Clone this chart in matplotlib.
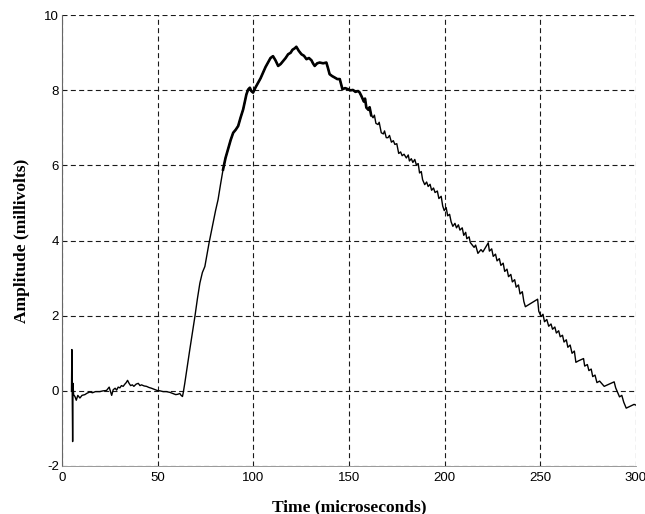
# Amplitude vs time trace, redrawn from a scanned plot
import numpy as np
import matplotlib.pyplot as plt

plt.rcParams['axes.unicode_minus'] = False

# --- data (time in microseconds, amplitude in millivolts) ---
baseline_t = [5.0, 5.2, 5.4, 5.6, 5.8, 6.1, 6.8, 7.5, 8.3, 9.4, 10.5, 12.0, 13.2, 14.6, 16.0,
              17.5, 19.8, 21.5, 23.3, 24.7, 25.4, 26.0, 26.8, 27.8, 28.6, 29.4, 30.3, 31.1,
              32.0, 32.9, 33.6, 34.3, 35.1, 35.9, 36.8, 37.6, 38.8, 39.9, 40.8, 41.6, 43.0,
              44.2, 45.5, 46.8, 48.3, 49.8, 51.3, 52.9, 54.6, 56.4, 58.0, 59.5, 60.6, 61.6,
              62.3, 63.0]
baseline_v = [0.0, 1.1, -0.3, -1.35, 0.2, -0.1, -0.15, -0.25, -0.12, -0.19, -0.12, -0.1, -0.06,
              -0.03, -0.05, -0.02, -0.02, 0.0, 0.01, 0.1, -0.02, -0.12, 0.03, 0.07, 0.02, 0.1,
              0.08, 0.14, 0.12, 0.18, 0.22, 0.28, 0.2, 0.14, 0.16, 0.12, 0.18, 0.2, 0.14, 0.16,
              0.13, 0.12, 0.09, 0.07, 0.04, 0.01, 0.0, -0.02, -0.02, -0.04, -0.07, -0.1, -0.09,
              -0.07, -0.12, -0.15]

rise_t = [63.4, 64.2, 65.5, 66.8, 68.2, 69.5, 70.8, 72.1, 73.4, 74.7, 75.8, 76.9, 78.0, 79.0,
          80.3, 81.6, 82.9, 84.2, 85.5, 86.8, 88.2, 89.5, 90.8, 92.1, 93.4, 94.7, 95.6, 96.4,
          97.3, 98.2, 99.0, 99.9, 101.2, 102.5, 103.8, 105.1, 106.4, 107.7, 109.0, 110.3]
rise_v = [-0.05, 0.2, 0.65, 1.09, 1.55, 1.98, 2.45, 2.87, 3.15, 3.31, 3.62, 3.94, 4.22, 4.47,
          4.8, 5.09, 5.5, 5.89, 6.2, 6.43, 6.68, 6.87, 6.95, 7.05, 7.28, 7.49, 7.7, 7.89, 8.02,
          8.07, 7.98, 7.94, 8.08, 8.2, 8.32, 8.47, 8.62, 8.74, 8.86, 8.91]

peak_t = [111.6, 113.0, 114.3, 115.6, 116.9, 118.2, 119.5, 120.5, 121.7, 122.5, 123.8, 125.2,
          126.5, 127.8, 129.1, 130.4, 131.2, 132.1, 133.4, 134.7, 136.5, 138.2, 139.0, 139.9,
          141.2, 142.6, 143.9, 145.2, 146.6, 148.0, 149.5, 150.8, 152.1, 153.4, 154.7, 155.5,
          156.5]
peak_v = [8.8, 8.65, 8.7, 8.78, 8.86, 8.96, 9.0, 9.08, 9.12, 9.16, 9.05, 8.96, 8.92, 8.83,
          8.86, 8.8, 8.72, 8.65, 8.72, 8.74, 8.72, 8.74, 8.6, 8.43, 8.38, 8.34, 8.3, 8.3, 8.03,
          8.06, 8.03, 8.0, 8.01, 7.96, 7.98, 7.95, 7.85]

fall_t = [157.8, 158.4, 159.1, 160.2, 160.8, 161.6, 162.6, 163.3, 164.1, 165.2, 165.8, 166.9,
          168.0, 168.6, 169.5, 170.4, 171.2, 172.2, 173.2, 174.0, 175.0, 176.0, 177.0, 177.8,
          178.8, 180.0, 181.0, 181.6, 182.6, 183.4, 184.4, 185.2, 186.2, 186.9, 187.8, 188.5,
          189.6, 190.6, 191.4, 192.4, 193.2, 194.2, 195.0, 196.2, 197.0, 198.2, 199.0, 199.8,
          200.8, 201.6, 202.6, 203.4, 204.3, 205.4, 206.2, 207.2, 208.0, 209.2, 210.0, 211.0,
          211.6, 212.8, 213.4, 215.4, 216.2, 217.4, 219.0, 220.0, 222.8, 223.4, 224.6, 225.4,
          226.6, 227.4, 228.6, 229.4, 230.6, 231.4, 232.6, 233.4, 234.6, 235.4, 236.6, 237.4,
          238.6, 239.4, 240.6, 241.4, 242.2, 248.6, 249.2, 250.4, 251.4, 252.2, 253.4, 254.4,
          255.6, 256.4, 257.6, 258.4, 259.6, 260.4, 261.6, 262.4, 263.6, 264.4, 265.6, 266.6,
          267.8, 268.6, 270.0, 272.6, 273.2, 274.6, 275.4, 276.6, 277.4, 278.6, 279.6, 281.0,
          283.4, 288.6, 289.4, 290.4, 291.4, 292.6, 293.6, 294.9, 297.4, 299.0, 300.0]
fall_v = [7.70, 7.78, 7.54, 7.48, 7.55, 7.34, 7.27, 7.34, 7.12, 7.09, 7.15, 6.87, 6.84, 6.92,
          6.74, 6.74, 6.80, 6.62, 6.66, 6.56, 6.58, 6.32, 6.36, 6.26, 6.30, 6.20, 6.28, 6.12,
          6.18, 6.08, 6.16, 6.02, 6.05, 5.80, 5.84, 5.62, 5.49, 5.56, 5.44, 5.50, 5.34, 5.40,
          5.28, 5.32, 5.12, 5.18, 4.92, 4.80, 4.88, 4.66, 4.70, 4.50, 4.38, 4.46, 4.34, 4.42,
          4.28, 4.34, 4.14, 4.22, 4.05, 4.10, 3.95, 3.82, 3.88, 3.66, 3.76, 3.70, 3.94, 3.72,
          3.78, 3.58, 3.64, 3.46, 3.52, 3.34, 3.40, 3.18, 3.24, 3.04, 3.10, 2.90, 2.96, 2.76,
          2.82, 2.58, 2.64, 2.38, 2.24, 2.44, 2.12, 1.98, 2.04, 1.84, 1.90, 1.72, 1.78, 1.64,
          1.70, 1.54, 1.60, 1.44, 1.48, 1.30, 1.36, 1.16, 1.22, 1.00, 1.06, 0.76, 0.80, 0.86,
          0.66, 0.70, 0.54, 0.58, 0.38, 0.42, 0.22, 0.26, 0.12, 0.24, 0.08, -0.04, -0.16,
          -0.12, -0.30, -0.46, -0.40, -0.36, -0.38]

x_ticks = [0, 50, 100, 150, 200, 250, 300]
y_ticks = [-2, 0, 2, 4, 6, 8, 10]

t = np.array(baseline_t + rise_t + peak_t + fall_t)
v = np.array(baseline_v + rise_v + peak_v + fall_v)

fig = plt.figure(figsize=(6.45, 5.14), dpi=100)
ax = fig.add_axes([0.096, 0.0934, 0.890, 0.877])

ax.plot(t, v, color='black', linewidth=1.0)
# the noisy top part of the trace is drawn thicker, as in the scan
noisy = (t >= 84) & (t <= 162)
ax.plot(t[noisy], v[noisy], color='black', linewidth=1.9)

ax.set_xlim(0, 300)
ax.set_ylim(-2, 10)
ax.set_xticks(x_ticks)
ax.set_yticks(y_ticks)
ax.grid(True, color='#1a1a1a', linestyle=(0, (4.5, 3)), linewidth=0.8)

ax.spines['top'].set_visible(False)
ax.spines['right'].set_visible(False)
ax.spines['left'].set_color('#666666')
ax.spines['bottom'].set_color('#888888')
ax.spines['bottom'].set_linewidth(0.6)
ax.tick_params(axis='both', length=0, labelsize=9.5, labelfontfamily='Liberation Sans')
ax.tick_params(axis='x', pad=4.5)
ax.tick_params(axis='y', pad=2)

ax.set_xlabel('Time (microseconds)', fontsize=12.5, fontweight='bold',
              family='Liberation Serif', labelpad=11)
ax.set_ylabel('Amplitude (millivolts)', fontsize=12.5, fontweight='bold',
              family='Liberation Serif', labelpad=10.5)

plt.savefig('out.png', dpi=100)
